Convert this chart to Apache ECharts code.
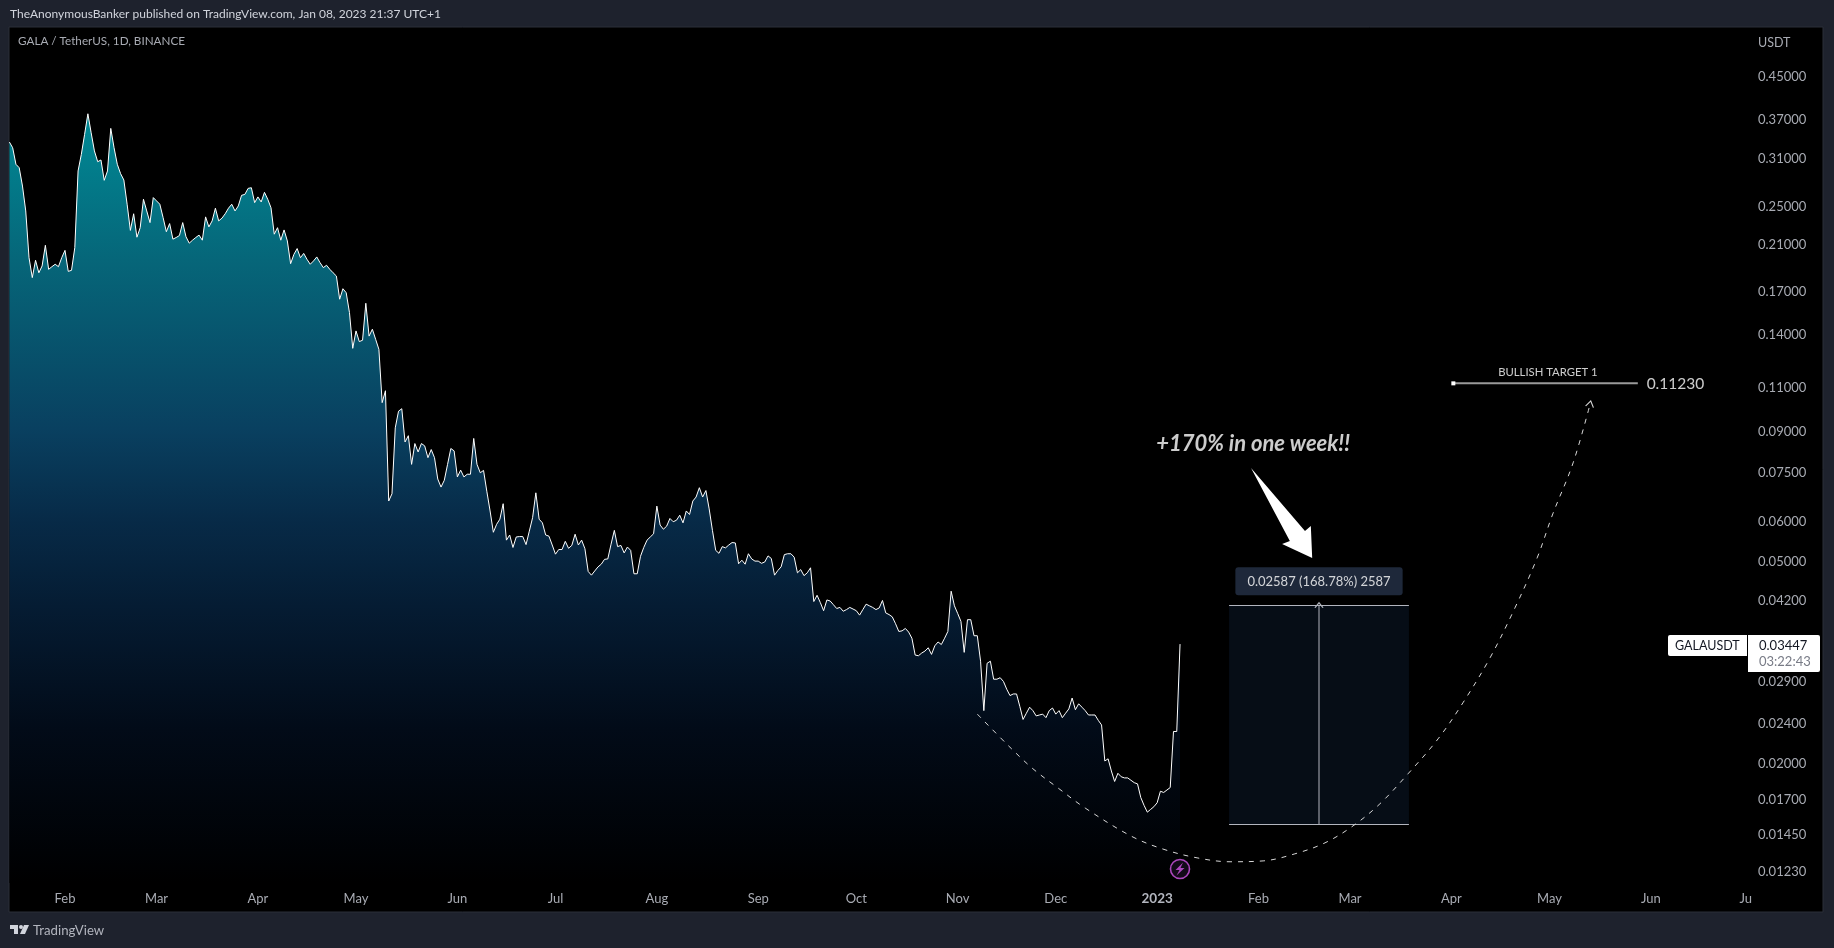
<!DOCTYPE html>
<html><head><meta charset="utf-8">
<style>html,body{margin:0;padding:0;background:#1e222d;overflow:hidden}#c{width:1834px;height:948px}</style>
<script src="https://cdn.jsdelivr.net/npm/echarts@6/dist/echarts.min.js"></script>
</head><body><div id="c"></div>
<script>
const startDate = '2022-01-15';
const prices = [
.335,.3265,.3029,.2982,.2745,.2452,.1984,.1813,.1961,.1853,.1911,.2099,.1882,.1905,.1926,.1905,.1984,.2051,.1865,.1874,
.2077,.2939,.3169,.3469,.3808,.3494,.3218,.3065,.3089,.2817,.2939,.3564,.3265,.3029,.2904,.2821,.2528,.2245,.2421,.2177,
.2273,.2586,.2452,.2326,.2605,.2566,.2528,.2380,.2232,.2316,.2158,.2174,.2194,.2326,.2182,.2119,.2148,.2174,.2198,.2148,
.2387,.2281,.2344,.2483,.2344,.2373,.2421,.2483,.2528,.2452,.2508,.2632,.2643,.2716,.2724,.2546,.2613,.2554,.2668,.2586,
.2488,.2207,.2273,.2148,.2250,.2141,.1931,.2014,.2068,.1984,.2023,.1970,.1926,.1955,.1991,.1940,.1897,.1917,.1882,.1853,
.1826,.1644,.1724,.1693,.1547,.1316,.1424,.1357,.1365,.1614,.1391,.1435,.1371,.1310,.1029,.1086,.0659,.0681,.0918,.0990,
.1001,.0861,.0886,.0778,.0855,.0823,.0855,.0846,.0802,.0832,.0802,.0728,.0702,.0724,.0778,.0836,.0827,.0735,.0758,.0735,
.0744,.0744,.0875,.0778,.0749,.0757,.0689,.0630,.0572,.0593,.0607,.0651,.0552,.0565,.0534,.0560,.0561,.0561,.0541,.0575,
.0611,.0684,.0607,.0597,.0565,.0562,.0540,.0518,.0529,.0529,.0549,.0532,.0539,.0567,.0540,.0552,.0531,.0479,.0471,.0480,
.0489,.0495,.0506,.0507,.0542,.0577,.0536,.0539,.0521,.0535,.0527,.0474,.0474,.0513,.0534,.0552,.0560,.0568,.0644,.0591,
.0580,.0588,.0609,.0600,.0604,.0618,.0597,.0630,.0620,.0659,.0671,.0700,.0671,.0691,.0636,.0577,.0527,.0520,.0536,.0533,
.0540,.0546,.0545,.0496,.0504,.0495,.0519,.0507,.0502,.0502,.0497,.0500,.0514,.0508,.0471,.0481,.0489,.0517,.0519,.0519,
.0511,.0476,.0483,.0470,.0476,.0487,.0418,.0430,.0416,.0401,.0421,.0419,.0412,.0405,.0407,.0400,.0403,.0407,.0404,.0401,
.0393,.0403,.0413,.0410,.0407,.0403,.0406,.0420,.0397,.0394,.0390,.0378,.0365,.0366,.0370,.0364,.0354,.0328,.0327,.0331,
.0334,.0339,.0329,.0342,.0348,.0344,.0354,.0365,.0438,.0410,.0396,.0382,.0332,.0385,.0385,.0358,.0358,.0319,.0255,.0316,
.0319,.0294,.0294,.0296,.0291,.0281,.0273,.0275,.0275,.0260,.0245,.0252,.0259,.0255,.0249,.0250,.0251,.0247,.0255,.0258,
.0251,.0255,.0247,.0252,.0257,.0270,.0256,.0263,.0259,.0255,.0250,.0250,.0250,.0244,.0239,.0203,.0205,.0194,.0185,.0192,
.0189,.0188,.0188,.0186,.0184,.0183,.0172,.0166,.0161,.0163,.0165,.0168,.0177,.0176,.0178,.0180,.0232,.0232,.03447];
const priceTicks = [0.45,0.37,0.31,0.25,0.21,0.17,0.14,0.11,0.09,0.075,0.06,0.05,0.042,0.029,0.024,0.02,0.017,0.0145,0.0123];
const monthTicks = ['2022-02-01','2022-03-01','2022-04-01','2022-05-01','2022-06-01','2022-07-01','2022-08-01','2022-09-01','2022-10-01','2022-11-01','2022-12-01','2023-01-01','2023-02-01','2023-03-01','2023-04-01','2023-05-01','2023-06-01','2023-06-30'];
const monthLabels = ['Feb','Mar','Apr','May','Jun','Jul','Aug','Sep','Oct','Nov','Dec','2023','Feb','Mar','Apr','May','Jun','Ju'];
const curveDates = ['2022-11-07','2022-11-17','2022-11-24','2022-12-02','2022-12-10','2022-12-24','2023-01-02 19:00','2023-01-13 05:00','2023-01-23 07:00','2023-02-02 10:00','2023-02-12 03:00','2023-02-21 08:00','2023-03-01 22:00','2023-03-10 03:00','2023-03-18 17:00','2023-03-27 22:00','2023-04-04 12:00','2023-04-12 19:00','2023-04-20 10:00','2023-04-27 05:00','2023-05-02','2023-05-08 05:00','2023-05-13 10:00'];
const curveValues = [.0251,.0216,.0196,.0179,.0164,.01445,.01362,.01309,.01286,.01291,.01333,.01401,.01513,.01672,.01915,.02244,.02641,.03238,.04061,.05093,.06216,.07832,.1023];
const measureDates = ['2023-01-23','2023-03-19','2023-02-19 12:00'];
const measureValues = [0.0411,0.01523];
const targetDates = ['2023-04-01 14:00','2023-05-28'];
const targetValue = 0.1123;
const arrowDates = ['2023-01-29 17:00','2023-02-15 05:00','2023-02-17','2023-02-17 10:00','2023-02-08 05:00','2023-02-10 14:00'];
const arrowValues = [.07657,.05756,.05888,.05093,.05427,.05501];

const FONT = 'Lato, "Noto Sans", sans-serif';
const t = s => echarts.time.parse(s).getTime();
const DAY = 86400000;
const priceSeries = prices.map((v,i)=>[t(startDate)+i*DAY, v]);
const openArrow = 'path://M0,10 L5,0 L10,10';
const labelOf = {}; monthTicks.forEach((d,i)=>labelOf[t(d)]=monthLabels[i]);

const notes = [
  {value:[t('2023-01-30 08:00'),0.0852], label:{show:true,position:'inside',formatter:'+170% in one week!!',color:'#fff',fontSize:22,fontWeight:'bold',fontStyle:'italic',fontFamily:FONT}},
  {value:[t(measureDates[2]),0.0458], label:{show:true,position:'inside',formatter:'0.02587 (168.78%) 2587',color:'#fff',fontSize:13,fontFamily:FONT,backgroundColor:'#253248',borderRadius:3,padding:[8,12,7,12]}},
  {value:[t('2023-04-30 12:00'),0.1178], label:{show:true,position:'inside',formatter:'BULLISH TARGET 1',color:'#fff',fontSize:11.3,fontFamily:FONT}},
  {value:[t('2023-06-08 12:00'),0.1118], label:{show:true,position:'inside',formatter:'0.11230',color:'#fff',fontSize:15.5,fontFamily:FONT}}
];

const chart = echarts.init(document.getElementById('c'),null,{renderer:'canvas',width:1834,height:948});
chart.setOption({
  animation:false,
  backgroundColor:'#1e222d',
  grid:{left:9.4,right:85,top:28,bottom:65,containLabel:false},
  xAxis:{type:'value',scale:true,min:t(startDate),max:t('2023-07-01'),
    axisLine:{show:false},axisTick:{show:false},splitLine:{show:false},
    axisLabel:{customValues:monthTicks.map(t),margin:9,color:'#a8abb3',fontFamily:FONT,fontSize:13,hideOverlap:false,showMinLabel:true,showMaxLabel:true,
      formatter:v=>{const s=labelOf[v]; return s==='2023'?'{b|2023}':s;},
      rich:{b:{fontWeight:'bold',color:'#b2b5be',fontFamily:FONT,fontSize:13.5}}}},
  yAxis:{type:'log',position:'right',min:0.01168,max:0.5616,
    axisLine:{show:false},axisTick:{show:false},splitLine:{show:false},minorSplitLine:{show:false},
    axisLabel:{customValues:priceTicks,margin:9,padding:[4,0,0,0],color:'#a8abb3',fontFamily:FONT,fontSize:13,formatter:v=>v.toFixed(5)}},
  graphic:[
    {type:'rect',z:-10,silent:true,shape:{x:9,y:27,width:1814,height:885},style:{fill:'#000',stroke:'#2a2e39',lineWidth:1}},
    {type:'text',z:20,x:10,y:8,style:{text:'TheAnonymousBanker published on TradingView.com, Jan 08, 2023 21:37 UTC+1',fill:'#d1d4dc',font:'12px '+FONT}},
    {type:'text',z:20,x:18,y:35,style:{text:'GALA / TetherUS, 1D, BINANCE',fill:'#a8abb3',font:'11.7px '+FONT}},
    {type:'text',z:20,x:1758,y:36,style:{text:'USDT',fill:'#a8abb3',font:'12.5px '+FONT}},
    {type:'text',z:20,x:33,y:924,style:{text:'TradingView',fill:'#b2b5be',font:'13.2px '+FONT}},
    {type:'group',z:20,x:10,y:925,children:[
      {type:'polygon',z:20,shape:{points:[[0,0],[8,0],[8,9],[4,9],[4,4],[0,4]]},style:{fill:'#d1d4dc'}},
      {type:'circle',z:20,shape:{cx:11,cy:2,r:2},style:{fill:'#d1d4dc'}},
      {type:'polygon',z:20,shape:{points:[[14,0],[19,0],[15,9],[10,9]]},style:{fill:'#d1d4dc'}}]},
    {type:'rect',z:20,shape:{x:1668,y:635,width:80,height:21,r:[2,0,0,2]},style:{fill:'#fff'}},
    {type:'rect',z:20,shape:{x:1748,y:635,width:72,height:37,r:[0,2,2,0]},style:{fill:'#fff'}},
    {type:'line',z:21,shape:{x1:1747.5,y1:635,x2:1747.5,y2:656},style:{stroke:'#000',lineWidth:1}},
    {type:'text',z:21,x:1675,y:639,style:{text:'GALAUSDT',fill:'#131722',font:'12.5px '+FONT}},
    {type:'text',z:21,x:1759,y:639,style:{text:'0.03447',fill:'#131722',font:'13px '+FONT}},
    {type:'text',z:21,x:1759,y:655,style:{text:'03:22:43',fill:'#787b86',font:'13px '+FONT}},
    {type:'circle',z:20,shape:{cx:1180,cy:869,r:9.5},style:{fill:'#120a18',stroke:'#ab47bc',lineWidth:1.6}},
    {type:'polygon',z:21,shape:{points:[[1183,862.5],[1175.5,870],[1179.5,870],[1176.5,875.5],[1184.5,868],[1180.5,868]]},style:{fill:'#ab47bc'}}
  ],
  series:[
    {name:'GALAUSDT',type:'line',data:priceSeries,showSymbol:false,symbol:'none',z:3,
      lineStyle:{color:'#fff',width:1},
      areaStyle:{origin:'start',opacity:1,color:new echarts.graphic.LinearGradient(0,0,0,1,[
        {offset:0,color:'#008a96'},{offset:.19,color:'#066679'},{offset:.41,color:'#094060'},{offset:.53,color:'#072a47'},
        {offset:.64,color:'#051c33'},{offset:.80,color:'#020b18'},{offset:.96,color:'#000205'},{offset:1,color:'#000'}])}},
    {name:'curve',type:'line',smooth:0.35,z:5,symbol:'none',showSymbol:true,showAllSymbol:true,
      lineStyle:{color:'#d8d8d8',width:1,type:[5,6]},
      data:curveDates.map((d,i)=>i===curveDates.length-1
        ?{value:[t(d),curveValues[i]],symbol:openArrow,symbolSize:[8,6],symbolRotate:-12,itemStyle:{color:'transparent',borderColor:'#d8d8d8',borderWidth:1}}
        :{value:[t(d),curveValues[i]],symbol:'none'})},
    {name:'measure',type:'line',z:2,symbol:'none',lineStyle:{width:0,opacity:0},
      data:[[t(measureDates[0]),measureValues[0]]],
      markArea:{silent:true,itemStyle:{color:'#060d16'},data:[[{coord:[t(measureDates[0]),measureValues[0]]},{coord:[t(measureDates[1]),measureValues[1]]}]]},
      markLine:{silent:true,symbol:'none',label:{show:false},lineStyle:{color:'#b2b5be',width:1,type:'solid'},
        data:[[{coord:[t(measureDates[0]),measureValues[0]]},{coord:[t(measureDates[1]),measureValues[0]]}],
              [{coord:[t(measureDates[0]),measureValues[1]]},{coord:[t(measureDates[1]),measureValues[1]]}]]}},
    {name:'measureArrow',type:'line',z:4,symbol:'none',showSymbol:true,showAllSymbol:true,lineStyle:{color:'#b2b5be',width:1},
      data:[{value:[t(measureDates[2]),measureValues[1]],symbol:'none'},
            {value:[t(measureDates[2]),measureValues[0]],symbol:openArrow,symbolSize:[8,5],itemStyle:{color:'transparent',borderColor:'#b2b5be',borderWidth:1}}]},
    {name:'target',type:'line',z:4,symbol:'none',showSymbol:true,showAllSymbol:true,lineStyle:{color:'#9a9a9a',width:2},
      data:[{value:[t(targetDates[0]),targetValue],symbol:'rect',symbolSize:4,itemStyle:{color:'#fff'}},
            {value:[t(targetDates[1]),targetValue],symbol:'none'}]},
    {name:'bigArrow',type:'custom',z:6,coordinateSystem:'cartesian2d',
      data:arrowDates.map((d,i)=>[t(d),arrowValues[i]]),
      renderItem:(params,api)=>{
        if(params.dataIndex!==0) return null;
        const pts=arrowDates.map((d,i)=>api.coord([t(d),arrowValues[i]]));
        return {type:'polygon',shape:{points:pts},style:{fill:'#fff'}};
      }},
    {name:'notes',type:'scatter',z:7,symbolSize:0,data:notes}
  ]
});
</script></body></html>
